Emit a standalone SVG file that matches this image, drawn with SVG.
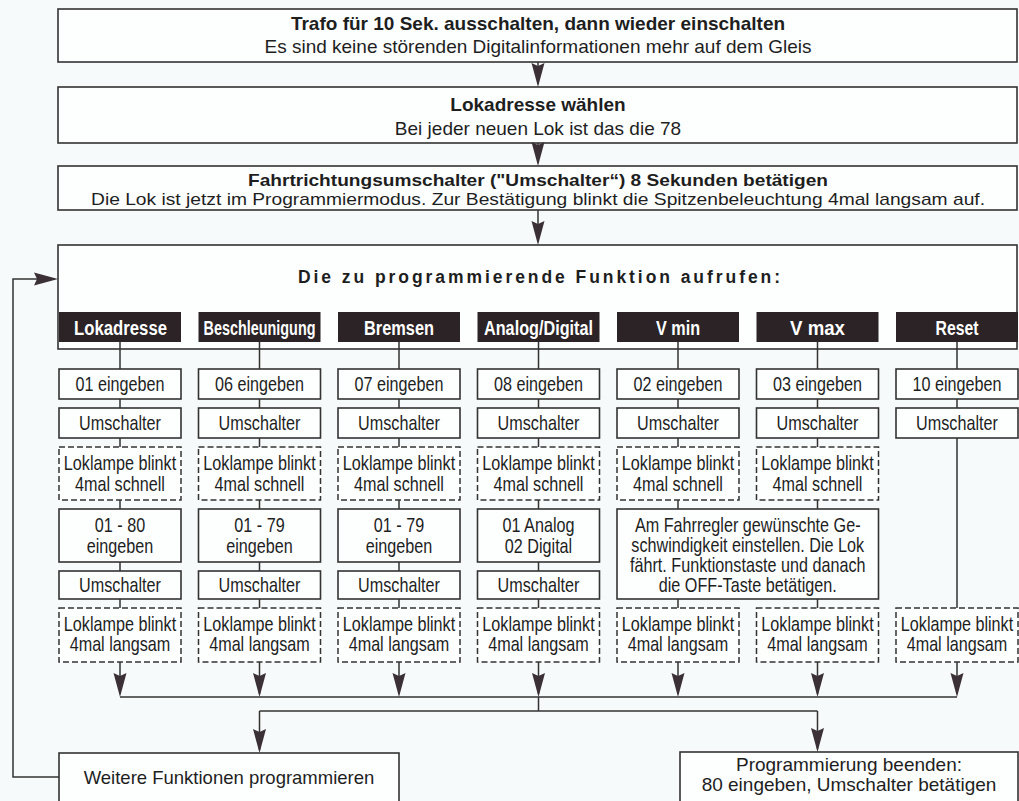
<svg xmlns="http://www.w3.org/2000/svg" xmlns:xlink="http://www.w3.org/1999/xlink" width="1019" height="801" viewBox="0 0 1019 801">
<defs>
<style>
.box{fill:#fdfefe;stroke:#333;stroke-width:1.6}
.dash{fill:#fdfefe;stroke:#333;stroke-width:1.5;stroke-dasharray:6 3}
.hdr{fill:#2b2326}
.ln{fill:none;stroke:#333;stroke-width:1.5}
.ah{fill:#3a3035}
.b{font-family:"Liberation Sans",Arial,sans-serif;font-weight:bold;font-size:19px;fill:#1e1e1e;text-anchor:middle}
.r{font-family:"Liberation Sans",Arial,sans-serif;font-size:19px;fill:#1e1e1e;text-anchor:middle}
.c{font-family:"Liberation Sans",Arial,sans-serif;font-size:19.5px;fill:#1e1e1e;text-anchor:middle}
.h{font-family:"Liberation Sans Narrow","Liberation Sans",Arial,sans-serif;font-weight:bold;font-size:19.5px;fill:#fff;text-anchor:start}
</style>
<path id="ahd" d="M-6.5,-24 L0,0 L6.5,-24 L0,-21 Z"/>
<path id="ahr" d="M-24,-6.5 L0,0 L-24,6.5 L-21,0 Z"/>
</defs>
<rect width="1019" height="801" fill="#f7fafa"/>

<g id="step1">
<rect class="box" x="58" y="9" width="959" height="53"/>
<text class="b" x="538" y="30">Trafo für 10 Sek. ausschalten, dann wieder einschalten</text>
<text class="r" x="538" y="53">Es sind keine störenden Digitalinformationen mehr auf dem Gleis</text>
</g>
<g id="step2">
<rect class="box" x="58" y="87" width="959" height="56"/>
<text class="b" x="538" y="111">Lokadresse wählen</text>
<text class="r" x="538" y="135">Bei jeder neuen Lok ist das die 78</text>
</g>
<g id="step3">
<rect class="box" x="58" y="166" width="959" height="44"/>
<text class="b" x="538" y="185.5" style="font-size:17px" textLength="580" lengthAdjust="spacingAndGlyphs">Fahrtrichtungsumschalter ("Umschalter“) 8 Sekunden betätigen</text>
<text class="r" x="538" y="205" style="font-size:17px" textLength="894" lengthAdjust="spacingAndGlyphs">Die Lok ist jetzt im Programmiermodus. Zur Bestätigung blinkt die Spitzenbeleuchtung 4mal langsam auf.</text>
</g>
<g id="step4">
<rect class="box" x="58" y="245" width="959" height="104"/>
<text class="b" x="298" y="283" style="font-size:17.5px;text-anchor:start" textLength="482" lengthAdjust="spacing">Die zu programmierende Funktion aufrufen:</text>
</g>

<g id="headers">
<g id="h-lokadresse"><rect class="hdr" x="59" y="312" width="122" height="30"/><text class="h" x="74" y="334.5" textLength="93" lengthAdjust="spacingAndGlyphs">Lokadresse</text></g>
<g id="h-beschleunigung"><rect class="hdr" x="198.5" y="312" width="122" height="30"/><text class="h" x="203.5" y="334.5" textLength="112" lengthAdjust="spacingAndGlyphs">Beschleunigung</text></g>
<g id="h-bremsen"><rect class="hdr" x="338" y="312" width="122" height="30"/><text class="h" x="364" y="334.5" textLength="70" lengthAdjust="spacingAndGlyphs">Bremsen</text></g>
<g id="h-analog"><rect class="hdr" x="477.5" y="312" width="122" height="30"/><text class="h" x="484" y="334.5" textLength="109" lengthAdjust="spacingAndGlyphs">Analog/Digital</text></g>
<g id="h-vmin"><rect class="hdr" x="617" y="312" width="122" height="30"/><text class="h" x="656" y="334.5" textLength="44" lengthAdjust="spacingAndGlyphs">V min</text></g>
<g id="h-vmax"><rect class="hdr" x="756.5" y="312" width="122" height="30"/><text class="h" x="790" y="334.5" textLength="55" lengthAdjust="spacingAndGlyphs">V max</text></g>
<g id="h-reset"><rect class="hdr" x="896" y="312" width="122" height="30"/><text class="h" x="935.5" y="334.5" textLength="43" lengthAdjust="spacingAndGlyphs">Reset</text></g>
</g>

<g id="connectors">
<path class="ln" d="M538,62 V84 M538,143 V163 M538,210 V242"/>
<use href="#ahd" class="ah" x="538" y="87"/>
<use href="#ahd" class="ah" x="538" y="166"/>
<use href="#ahd" class="ah" x="538" y="245"/>
<path class="ln" d="M120,342 V369 M120,399 V408 M120,438 V447 M120,500 V509 M120,562 V571 M120,599 V608
M259.5,342 V369 M259.5,399 V408 M259.5,438 V447 M259.5,500 V509 M259.5,562 V571 M259.5,599 V608
M399,342 V369 M399,399 V408 M399,438 V447 M399,500 V509 M399,562 V571 M399,599 V608
M538.5,342 V369 M538.5,399 V408 M538.5,438 V447 M538.5,500 V509 M538.5,562 V571 M538.5,599 V608
M678,342 V369 M678,399 V408 M678,438 V447 M678,500 V509 M678,599 V608
M817.5,342 V369 M817.5,399 V408 M817.5,438 V447 M817.5,500 V509 M817.5,599 V608
M957,342 V369 M957,399 V408 M957,438 V608"/>
<path class="ln" d="M120,662 V694 M259.5,662 V694 M399,662 V694 M538.5,662 V694 M678,662 V694 M817.5,662 V694 M957,662 V694"/>
<use href="#ahd" class="ah" x="120" y="697"/>
<use href="#ahd" class="ah" x="259.5" y="697"/>
<use href="#ahd" class="ah" x="399" y="697"/>
<use href="#ahd" class="ah" x="538.5" y="697"/>
<use href="#ahd" class="ah" x="678" y="697"/>
<use href="#ahd" class="ah" x="817.5" y="697"/>
<use href="#ahd" class="ah" x="957" y="697"/>
<path class="ln" d="M120,697 H957 M538.5,697 V711 M259.5,711 H817.5 M259.5,711 V750 M817.5,711 V749"/>
<use href="#ahd" class="ah" x="259.5" y="753"/>
<use href="#ahd" class="ah" x="817.5" y="752"/>
<path class="ln" d="M59,777 H13 V279 H55"/>
<use href="#ahr" class="ah" x="58" y="279"/>
</g>

<g id="col-lokadresse">
<rect class="box" x="59" y="369" width="122" height="30"/><text class="c" transform="translate(120,391) scale(0.83,1)">01 eingeben</text>
<rect class="box" x="59" y="408" width="122" height="30"/><text class="c" transform="translate(120,430) scale(0.83,1)">Umschalter</text>
<rect class="dash" x="59" y="447" width="122" height="53"/><text class="c" transform="translate(120,470) scale(0.83,1)">Loklampe blinkt</text><text class="c" transform="translate(120,490.5) scale(0.83,1)">4mal schnell</text>
<rect class="box" x="59" y="509" width="122" height="53"/><text class="c" transform="translate(120,532) scale(0.83,1)">01 - 80</text><text class="c" transform="translate(120,552.5) scale(0.83,1)">eingeben</text>
<rect class="box" x="59" y="571" width="122" height="28"/><text class="c" transform="translate(120,592) scale(0.83,1)">Umschalter</text>
<rect class="dash" x="59" y="608" width="122" height="54"/><text class="c" transform="translate(120,630.5) scale(0.83,1)">Loklampe blinkt</text><text class="c" transform="translate(120,651) scale(0.83,1)">4mal langsam</text>
</g>
<g id="col-beschleunigung">
<rect class="box" x="198.5" y="369" width="122" height="30"/><text class="c" transform="translate(259.5,391) scale(0.83,1)">06 eingeben</text>
<rect class="box" x="198.5" y="408" width="122" height="30"/><text class="c" transform="translate(259.5,430) scale(0.83,1)">Umschalter</text>
<rect class="dash" x="198.5" y="447" width="122" height="53"/><text class="c" transform="translate(259.5,470) scale(0.83,1)">Loklampe blinkt</text><text class="c" transform="translate(259.5,490.5) scale(0.83,1)">4mal schnell</text>
<rect class="box" x="198.5" y="509" width="122" height="53"/><text class="c" transform="translate(259.5,532) scale(0.83,1)">01 - 79</text><text class="c" transform="translate(259.5,552.5) scale(0.83,1)">eingeben</text>
<rect class="box" x="198.5" y="571" width="122" height="28"/><text class="c" transform="translate(259.5,592) scale(0.83,1)">Umschalter</text>
<rect class="dash" x="198.5" y="608" width="122" height="54"/><text class="c" transform="translate(259.5,630.5) scale(0.83,1)">Loklampe blinkt</text><text class="c" transform="translate(259.5,651) scale(0.83,1)">4mal langsam</text>
</g>
<g id="col-bremsen">
<rect class="box" x="338" y="369" width="122" height="30"/><text class="c" transform="translate(399,391) scale(0.83,1)">07 eingeben</text>
<rect class="box" x="338" y="408" width="122" height="30"/><text class="c" transform="translate(399,430) scale(0.83,1)">Umschalter</text>
<rect class="dash" x="338" y="447" width="122" height="53"/><text class="c" transform="translate(399,470) scale(0.83,1)">Loklampe blinkt</text><text class="c" transform="translate(399,490.5) scale(0.83,1)">4mal schnell</text>
<rect class="box" x="338" y="509" width="122" height="53"/><text class="c" transform="translate(399,532) scale(0.83,1)">01 - 79</text><text class="c" transform="translate(399,552.5) scale(0.83,1)">eingeben</text>
<rect class="box" x="338" y="571" width="122" height="28"/><text class="c" transform="translate(399,592) scale(0.83,1)">Umschalter</text>
<rect class="dash" x="338" y="608" width="122" height="54"/><text class="c" transform="translate(399,630.5) scale(0.83,1)">Loklampe blinkt</text><text class="c" transform="translate(399,651) scale(0.83,1)">4mal langsam</text>
</g>
<g id="col-analog">
<rect class="box" x="477.5" y="369" width="122" height="30"/><text class="c" transform="translate(538.5,391) scale(0.83,1)">08 eingeben</text>
<rect class="box" x="477.5" y="408" width="122" height="30"/><text class="c" transform="translate(538.5,430) scale(0.83,1)">Umschalter</text>
<rect class="dash" x="477.5" y="447" width="122" height="53"/><text class="c" transform="translate(538.5,470) scale(0.83,1)">Loklampe blinkt</text><text class="c" transform="translate(538.5,490.5) scale(0.83,1)">4mal schnell</text>
<rect class="box" x="477.5" y="509" width="122" height="53"/><text class="c" transform="translate(538.5,532) scale(0.83,1)">01 Analog</text><text class="c" transform="translate(538.5,552.5) scale(0.83,1)">02 Digital</text>
<rect class="box" x="477.5" y="571" width="122" height="28"/><text class="c" transform="translate(538.5,592) scale(0.83,1)">Umschalter</text>
<rect class="dash" x="477.5" y="608" width="122" height="54"/><text class="c" transform="translate(538.5,630.5) scale(0.83,1)">Loklampe blinkt</text><text class="c" transform="translate(538.5,651) scale(0.83,1)">4mal langsam</text>
</g>
<g id="col-vmin">
<rect class="box" x="617" y="369" width="122" height="30"/><text class="c" transform="translate(678,391) scale(0.83,1)">02 eingeben</text>
<rect class="box" x="617" y="408" width="122" height="30"/><text class="c" transform="translate(678,430) scale(0.83,1)">Umschalter</text>
<rect class="dash" x="617" y="447" width="122" height="53"/><text class="c" transform="translate(678,470) scale(0.83,1)">Loklampe blinkt</text><text class="c" transform="translate(678,490.5) scale(0.83,1)">4mal schnell</text>
<rect class="dash" x="617" y="608" width="122" height="54"/><text class="c" transform="translate(678,630.5) scale(0.83,1)">Loklampe blinkt</text><text class="c" transform="translate(678,651) scale(0.83,1)">4mal langsam</text>
</g>
<g id="col-vmax">
<rect class="box" x="756.5" y="369" width="122" height="30"/><text class="c" transform="translate(817.5,391) scale(0.83,1)">03 eingeben</text>
<rect class="box" x="756.5" y="408" width="122" height="30"/><text class="c" transform="translate(817.5,430) scale(0.83,1)">Umschalter</text>
<rect class="dash" x="756.5" y="447" width="122" height="53"/><text class="c" transform="translate(817.5,470) scale(0.83,1)">Loklampe blinkt</text><text class="c" transform="translate(817.5,490.5) scale(0.83,1)">4mal schnell</text>
<rect class="dash" x="756.5" y="608" width="122" height="54"/><text class="c" transform="translate(817.5,630.5) scale(0.83,1)">Loklampe blinkt</text><text class="c" transform="translate(817.5,651) scale(0.83,1)">4mal langsam</text>
</g>
<g id="speed-box">
<rect class="box" x="617" y="509" width="261.5" height="90"/>
<text class="c" transform="translate(747.75,532) scale(0.83,1)">Am Fahrregler gewünschte Ge-</text>
<text class="c" transform="translate(747.75,552) scale(0.83,1)">schwindigkeit einstellen. Die Lok</text>
<text class="c" transform="translate(747.75,572) scale(0.83,1)">fährt. Funktionstaste und danach</text>
<text class="c" transform="translate(747.75,592) scale(0.83,1)">die OFF-Taste betätigen.</text>
</g>
<g id="col-reset">
<rect class="box" x="896" y="369" width="122" height="30"/><text class="c" transform="translate(957,391) scale(0.83,1)">10 eingeben</text>
<rect class="box" x="896" y="408" width="122" height="30"/><text class="c" transform="translate(957,430) scale(0.83,1)">Umschalter</text>
<rect class="dash" x="896" y="608" width="122" height="54"/><text class="c" transform="translate(957,630.5) scale(0.83,1)">Loklampe blinkt</text><text class="c" transform="translate(957,651) scale(0.83,1)">4mal langsam</text>
</g>

<g id="more">
<rect class="box" x="59" y="753" width="340" height="60"/>
<text class="r" x="229" y="784" style="font-size:18.5px">Weitere Funktionen programmieren</text>
</g>
<g id="finish">
<rect class="box" x="680" y="752" width="338" height="60"/>
<text class="r" x="849" y="771">Programmierung beenden:</text>
<text class="r" x="849" y="791">80 eingeben, Umschalter betätigen</text>
</g>
</svg>
